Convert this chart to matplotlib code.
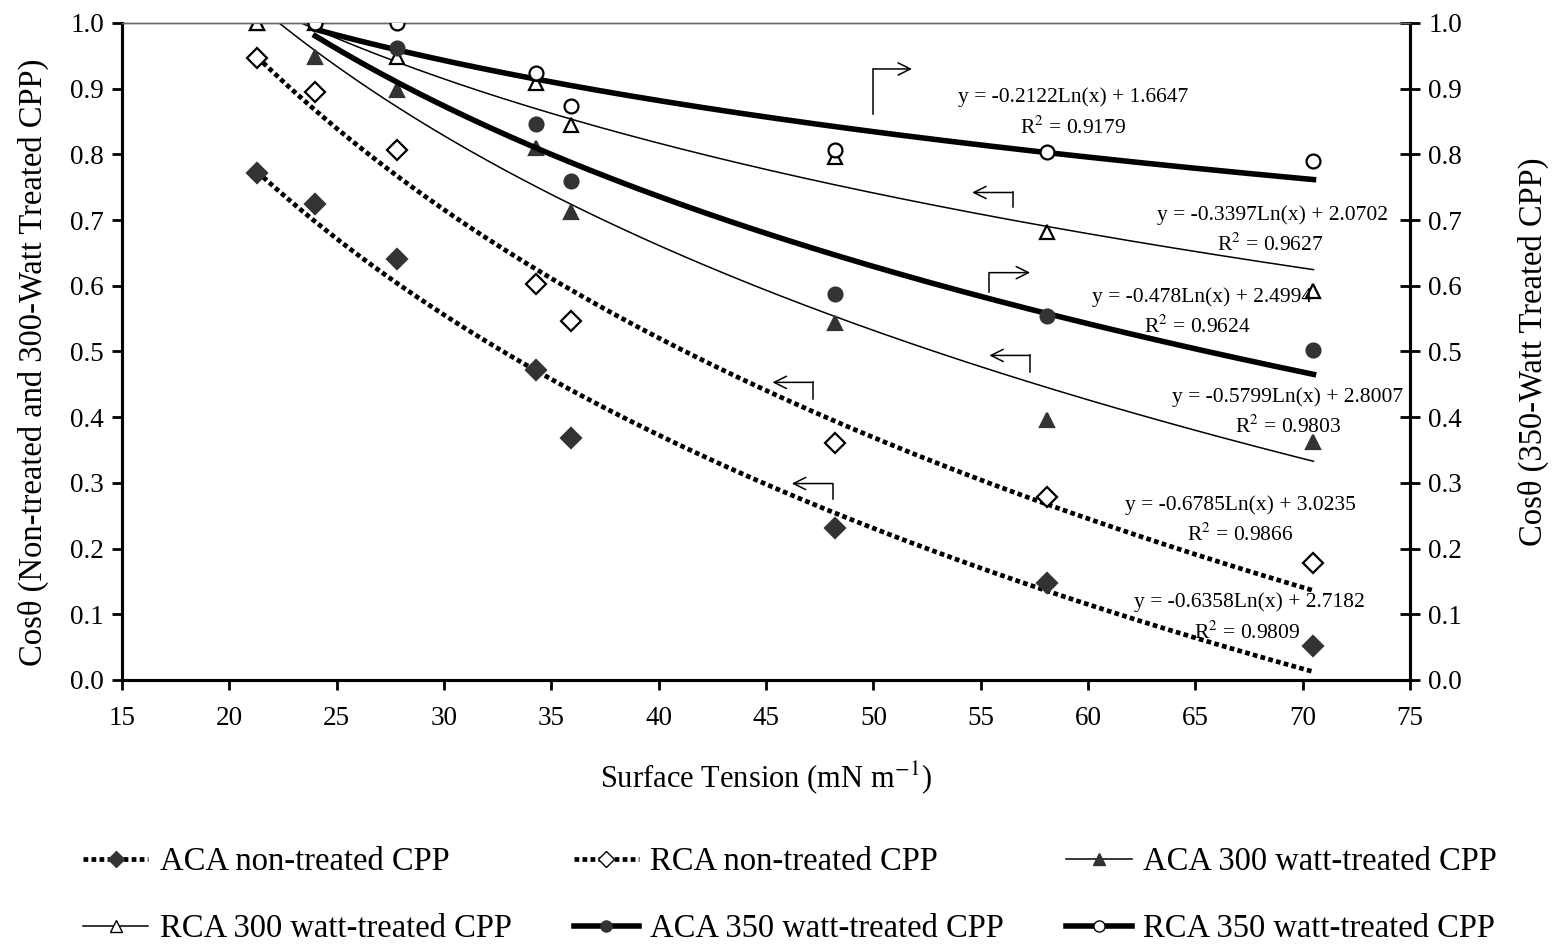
import numpy as np
import matplotlib
matplotlib.use("Agg")
import matplotlib.pyplot as plt
from matplotlib.lines import Line2D

plt.rcParams['font.family'] = ['Liberation Serif', 'DejaVu Serif']
plt.rcParams['mathtext.fontset'] = 'stix'

# tension superficial de los líquidos (mN/m)
x_todos = [21.3, 24.0, 27.8, 34.3, 35.9, 48.2, 58.1, 70.5]
x_350 = [24.0, 27.8, 34.3, 35.9, 48.2, 58.1, 70.5]

# cos(theta)
aca_no = [0.772, 0.725, 0.641, 0.472, 0.368, 0.231, 0.148, 0.052]
rca_no = [0.947, 0.895, 0.807, 0.603, 0.546, 0.361, 0.279, 0.178]
aca_300 = [1.0, 0.948, 0.898, 0.810, 0.712, 0.543, 0.396, 0.362]
rca_300 = [1.0, 1.0, 0.948, 0.909, 0.845, 0.796, 0.682, 0.592]
aca_350 = [1.0, 0.962, 0.846, 0.760, 0.588, 0.554, 0.502]
rca_350 = [1.0, 1.0, 0.924, 0.874, 0.807, 0.804, 0.790]

# coeficientes de las líneas de tendencia (y = a Ln(x) + b) y R2
pend = [-0.6358, -0.6785, -0.5799, -0.3397, -0.478, -0.2122]
orig = [2.7182, 3.0235, 2.8007, 2.0702, 2.4994, 1.6647]
r2 = [0.9809, 0.9866, 0.9803, 0.9627, 0.9624, 0.9179]

etiquetas = ['ACA non-treated CPP', 'RCA non-treated CPP', 'ACA 300 watt-treated CPP',
             'RCA 300 watt-treated CPP', 'ACA 350 watt-treated CPP', 'RCA 350 watt-treated CPP']

fig = plt.figure(figsize=(15.55, 9.46), dpi=100)
ax = fig.add_axes([0.0785, 0.2812, 0.8283, 0.6945])
ax2 = ax.twinx()

gris = '#333333'
series = [
    (x_todos, aca_no, 'D', gris, gris, 10, (0, (1, 0.7)), 3.4, ax),
    (x_todos, rca_no, 'D', 'white', 'black', 10, (0, (1, 0.7)), 3.4, ax),
    (x_todos, aca_300, '^', gris, gris, 10.5, '-', 1.1, ax),
    (x_todos, rca_300, '^', 'white', 'black', 10.5, '-', 1.1, ax),
    (x_350, aca_350, 'o', gris, gris, 10, '-', 4.0, ax2),
    (x_350, rca_350, 'o', 'white', 'black', 10, '-', 4.0, ax2),
]

handles = []
for i, (xs, ys, mk, fc, ec, ms, ls, lw, eje) in enumerate(series):
    eje.plot(xs, ys, linestyle='none', marker=mk, markersize=ms,
             markerfacecolor=fc, markeredgecolor=ec, markeredgewidth=1.6, zorder=4)
    xx = np.linspace(min(xs), max(xs), 300)
    yy = pend[i] * np.log(xx) + orig[i]
    eje.plot(xx, yy, color='black', linestyle=ls, linewidth=lw, zorder=3)
    handles.append(Line2D([0], [0], color='black', linestyle=ls, linewidth=lw,
                          marker=mk, markersize=ms * 0.8, markerfacecolor=fc,
                          markeredgecolor=ec))

for eje in (ax, ax2):
    eje.set_xlim(15, 75)
    eje.set_ylim(0, 1.0)
    eje.set_yticks(np.arange(0, 1.01, 0.1))
    eje.yaxis.set_major_formatter(plt.FormatStrFormatter('%.1f'))
    for s in ['left', 'right', 'bottom']:
        eje.spines[s].set_linewidth(2.2)
    eje.spines['top'].set_linewidth(1.0)
    eje.spines['top'].set_color('#666666')

ax.set_xticks(np.arange(15, 76, 5))
ax.tick_params(axis='x', direction='out', length=7, width=2, labelsize=19.5, pad=12)
ax.tick_params(axis='y', direction='out', length=7, width=2, labelsize=19.5, pad=6)
ax2.tick_params(axis='y', direction='inout', length=14, width=2, labelsize=19.5, pad=6)

ax.set_xlabel('Surface Tension (mN m$^{-1}$)', fontsize=22, labelpad=20)
ax.set_ylabel('Cos\u03b8 (Non-treated and 300-Watt Treated CPP)', fontsize=23.5,
              labelpad=15, y=0.484)
ax2.set_ylabel('Cos\u03b8 (350-Watt Treated CPP)', fontsize=23.5, rotation=90, labelpad=40)

# ecuaciones de tendencia: posición del texto "y = ..." y del texto "R2 = ..."
pos_ec = [(67.5, 0.119), (67.1, 0.266), (69.3, 0.431), (68.6, 0.708), (65.3, 0.582), (59.3, 0.887)]
pos_r2 = [(67.4, 0.072), (67.1, 0.221), (69.3, 0.385), (68.5, 0.662), (65.1, 0.537), (59.3, 0.840)]
for i in range(6):
    ax.text(pos_ec[i][0], pos_ec[i][1], 'y = %sLn(x) + %s' % (pend[i], orig[i]),
            fontsize=15.5, ha='center', va='center', zorder=5)
    ax.text(pos_r2[i][0], pos_r2[i][1], 'R$^2$ = %s' % r2[i],
            fontsize=15.5, ha='center', va='center', zorder=5)

# flechas que indican el eje correspondiente
flechas = [
    (50.0, 0.862, 0.930, 51.8, 'right'),
    (56.5, 0.720, 0.742, 54.6, 'left'),
    (55.4, 0.591, 0.620, 57.3, 'right'),
    (57.3, 0.469, 0.494, 55.4, 'left'),
    (47.2, 0.428, 0.453, 45.3, 'left'),
    (48.1, 0.275, 0.299, 46.2, 'left'),
]
for xv, y0, y1, xf, lado in flechas:
    ax.plot([xv, xv], [y0, y1], color='black', linewidth=1.1, zorder=5)
    ax.annotate('', xy=(xf, y1), xytext=(xv, y1),
                arrowprops=dict(arrowstyle='->', color='black', linewidth=1.1,
                                mutation_scale=22, shrinkA=0, shrinkB=0), zorder=5)

orden = [0, 3, 1, 4, 2, 5]
fig.legend([handles[k] for k in orden], [etiquetas[k] for k in orden],
           loc='lower center', bbox_to_anchor=(0.508, -0.029), ncol=3, frameon=False,
           fontsize=23.5, handlelength=2.0, handletextpad=0.35, columnspacing=1.9,
           labelspacing=1.12)

fig.savefig('out.png', dpi=100)
